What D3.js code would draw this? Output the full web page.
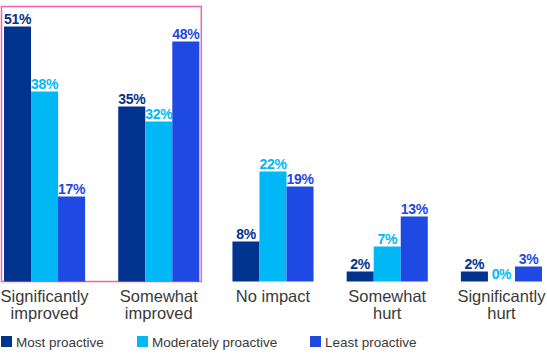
<!DOCTYPE html>
<html>
<head>
<meta charset="utf-8">
<script src="https://cdn.jsdelivr.net/npm/d3@7"></script>
<style>
  body { margin: 0; background: #fff; }
  .cat { font-family: "Liberation Sans", Arial, sans-serif; font-size: 16.5px; fill: #3a3a3a; }
  .val { font-family: "Liberation Sans", Arial, sans-serif; font-size: 14px; font-weight: bold; letter-spacing: -0.3px; }
  .leg { font-family: "Liberation Sans", Arial, sans-serif; font-size: 13.5px; fill: #3a3a3a; }
</style>
</head>
<body>
<div id="chart"></div>
<script>
// data
const categories = [["Significantly", "improved"], ["Somewhat", "improved"], ["No impact"], ["Somewhat", "hurt"], ["Significantly", "hurt"]];
const seriesNames = ["Most proactive", "Moderately proactive", "Least proactive"];
const mostProactive = [51, 35, 8, 2, 2];
const moderatelyProactive = [38, 32, 22, 7, 0];
const leastProactive = [17, 48, 19, 13, 3];
const colours = ["#00338D", "#00B8F5", "#1E49E2"];

const width = 547;
const height = 363;
const baseline = 281.5;

const series = [mostProactive, moderatelyProactive, leastProactive];

const svg = d3.select("#chart").append("svg")
    .attr("width", width)
    .attr("height", height);

const x0 = d3.scaleBand()
    .domain(d3.range(categories.length))
    .range([4, 542])
    .paddingInner(0.29)
    .paddingOuter(0);

const x1 = d3.scaleBand()
    .domain(d3.range(series.length))
    .range([0, x0.bandwidth()]);

const y = d3.scaleLinear()
    .domain([0, 51])
    .range([baseline, baseline - 255]);

// highlight box round the first two groups
svg.append("rect")
    .attr("x", 1.5)
    .attr("y", 6.5)
    .attr("width", x0(1) + x0.bandwidth() + 2 - 1.5)
    .attr("height", baseline - 6.5)
    .attr("fill", "none")
    .attr("stroke", "#F062AC")
    .attr("stroke-width", 1.5);

const rows = [];
categories.forEach((c, i) => {
  series.forEach((s, j) => rows.push({cat: i, s: j, value: s[i]}));
});

svg.selectAll("rect.bar")
    .data(rows)
    .enter()
    .append("rect")
    .attr("class", "bar")
    .attr("x", d => x0(d.cat) + x1(d.s))
    .attr("width", x1.bandwidth())
    .attr("y", d => y(d.value))
    .attr("height", d => baseline - y(d.value))
    .style("fill", d => colours[d.s]);

svg.selectAll("text.val")
    .data(rows)
    .enter()
    .append("text")
    .attr("class", "val")
    .attr("x", d => x0(d.cat) + x1(d.s) + x1.bandwidth() / 2)
    .attr("y", d => y(d.value) - 2.5)
    .attr("text-anchor", "middle")
    .style("fill", d => colours[d.s])
    .text(d => d.value + "%");

const catText = svg.selectAll("text.cat")
    .data(categories)
    .enter()
    .append("text")
    .attr("class", "cat")
    .attr("text-anchor", "middle")
    .attr("x", (d, i) => x0(i) + x0.bandwidth() / 2)
    .attr("y", 301.5);

catText.selectAll("tspan")
    .data(d => d)
    .enter()
    .append("tspan")
    .attr("x", function() { return d3.select(this.parentNode).attr("x"); })
    .attr("dy", (d, i) => i === 0 ? 0 : 17.5)
    .text(d => d);

// legend
const legendX = [1, 137, 310];
const legend = svg.selectAll("g.legend")
    .data(seriesNames)
    .enter()
    .append("g")
    .attr("class", "legend")
    .attr("transform", (d, i) => `translate(${legendX[i]}, 336)`);

legend.append("rect")
    .attr("width", 11)
    .attr("height", 11)
    .style("fill", (d, i) => colours[i]);

legend.append("text")
    .attr("class", "leg")
    .attr("x", 15)
    .attr("y", 10.5)
    .text(d => d);
</script>
</body>
</html>
